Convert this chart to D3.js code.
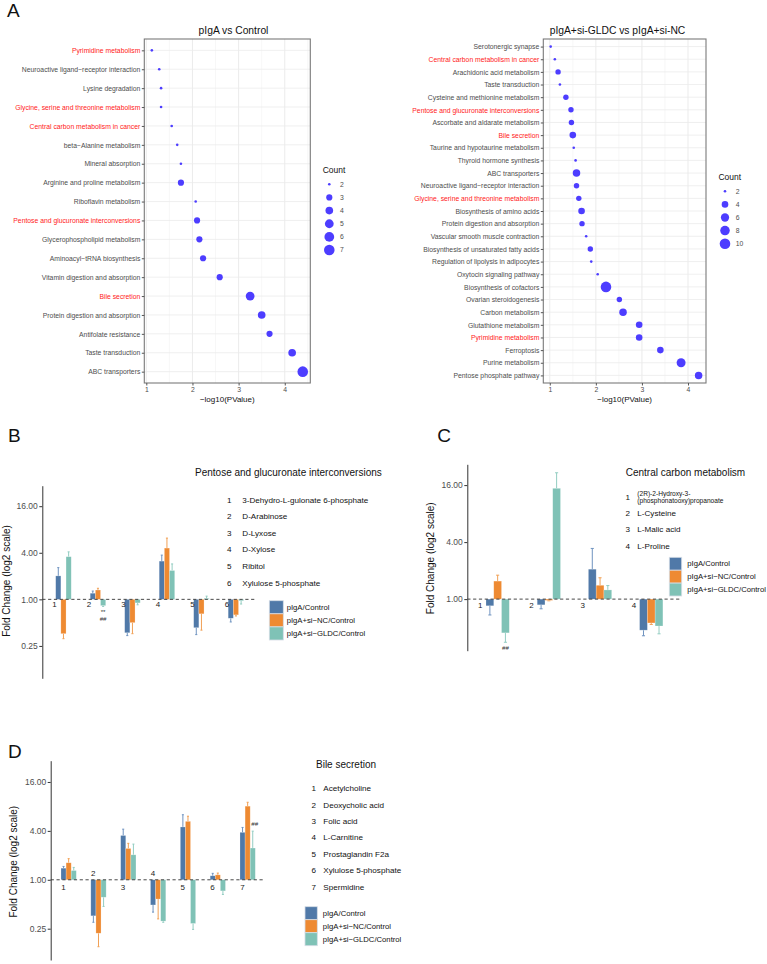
<!DOCTYPE html>
<html><head><meta charset="utf-8">
<script src="https://cdn.jsdelivr.net/npm/d3@7"></script>
<style>
body{margin:0;background:#fff}
svg{display:block}
text{font-family:"Liberation Sans",Arial,Helvetica,sans-serif}
</style>
</head><body>
<svg id="fig" width="767" height="964"></svg>
<script>
// ---------------- DATA ----------------
// Panel A (left): pIgA vs Control
const leftTerms = ["Pyrimidine metabolism","Neuroactive ligand\u2212receptor interaction","Lysine degradation","Glycine, serine and threonine metabolism","Central carbon metabolism in cancer","beta\u2212Alanine metabolism","Mineral absorption","Arginine and proline metabolism","Riboflavin metabolism","Pentose and glucuronate interconversions","Glycerophospholipid metabolism","Aminoacyl\u2212tRNA biosynthesis","Vitamin digestion and absorption","Bile secretion","Protein digestion and absorption","Antifolate resistance","Taste transduction","ABC transporters"];
const leftLogP = [1.12,1.28,1.32,1.32,1.55,1.67,1.75,1.75,2.07,2.10,2.15,2.23,2.59,3.25,3.50,3.67,4.16,4.39];
const leftCount = [2,2,2,2,2,2,2,3,2,3,3,3,3,5,4,3,4,7];
const leftCountBreaks = [2,3,4,5,6,7];

// Panel A (right): pIgA+si-GLDC vs pIgA+si-NC
const rightTerms = ["Serotonergic synapse","Central carbon metabolism in cancer","Arachidonic acid metabolism","Taste transduction","Cysteine and methionine metabolism","Pentose and glucuronate interconversions","Ascorbate and aldarate metabolism","Bile secretion","Taurine and hypotaurine metabolism","Thyroid hormone synthesis","ABC transporters","Neuroactive ligand\u2212receptor interaction","Glycine, serine and threonine metabolism","Biosynthesis of amino acids","Protein digestion and absorption","Vascular smooth muscle contraction","Biosynthesis of unsaturated fatty acids","Regulation of lipolysis in adipocytes","Oxytocin signaling pathway","Biosynthesis of cofactors","Ovarian steroidogenesis","Carbon metabolism","Glutathione metabolism","Pyrimidine metabolism","Ferroptosis","Purine metabolism","Pentose phosphate pathway"];
const rightLogP = [1.02,1.11,1.18,1.22,1.35,1.46,1.47,1.50,1.52,1.56,1.58,1.58,1.63,1.69,1.70,1.79,1.88,1.90,2.04,2.22,2.51,2.59,2.94,2.94,3.40,3.85,4.23];
const rightCount = [2,2,3,2,3,3,3,4,2,2,5,3,3,4,3,2,3,2,2,10,3,5,4,4,4,7,5];
const rightCountBreaks = [2,4,6,8,10];

const highlightedTerms = ["Pyrimidine metabolism","Glycine, serine and threonine metabolism","Central carbon metabolism in cancer","Pentose and glucuronate interconversions","Bile secretion"];
const pValueTicks = [1,2,3,4];

// Bar panels
const seriesNames = ["pIgA/Control","pIgA+si\u2212NC/Control","pIgA+si\u2212GLDC/Control"];
const foldTicks = [0.25,1,4,16];

// Panel B: Pentose and glucuronate interconversions
const pentoseIds = ["1","2","3","4","5","6"];
const pentoseNames = ["3-Dehydro-L-gulonate 6-phosphate","D-Arabinose","D-Lyxose","D-Xylose","Ribitol","Xylulose 5-phosphate"];
const pentoseCtrl = [2.01,1.20,0.37,3.12,0.43,0.57];
const pentoseCtrlErr = [2.57,1.28,0.34,3.73,0.35,0.51];
const pentoseNC = [0.36,1.32,0.50,4.60,0.65,0.63];
const pentoseNCErr = [0.31,1.39,0.36,6.19,0.40,0.61];
const pentoseGLDC = [3.56,0.83,0.90,2.36,1.03,0.96];
const pentoseGLDCErr = [4.11,0.81,0.85,2.87,1.10,0.87];
const pentoseSig = ["","**\n##","","","",""];

// Panel C: Central carbon metabolism
const centralIds = ["1","2","3","4"];
const centralNames = ["(2R)-2-Hydroxy-3-\n(phosphonatooxy)propanoate","L-Cysteine","L-Malic acid","L-Proline"];
const centralCtrl = [0.85,0.87,2.07,0.47];
const centralCtrlErr = [0.68,0.79,3.43,0.41];
const centralNC = [1.55,0.97,1.40,0.56];
const centralNCErr = [1.79,0.96,1.68,0.54];
const centralGLDC = [0.44,14.8,1.25,0.52];
const centralGLDCErr = [0.35,21.6,1.39,0.43];
const centralSig = ["##","","",""];

// Panel D: Bile secretion
const bileIds = ["1","2","3","4","5","6","7"];
const bileNames = ["Acetylcholine","Deoxycholic acid","Folic acid","L-Carnitine","Prostaglandin F2a","Xylulose 5-phosphate","Spermidine"];
const bileCtrl = [1.39,0.36,3.51,0.49,4.47,1.12,3.84];
const bileCtrlErr = [1.46,0.30,4.20,0.40,6.32,1.20,4.41];
const bileNC = [1.62,0.22,2.43,0.58,5.24,1.15,8.06];
const bileNCErr = [1.82,0.15,2.81,0.33,6.06,1.21,9.00];
const bileGLDC = [1.30,0.61,2.03,0.31,0.29,0.73,2.46];
const bileGLDCErr = [1.42,0.47,2.75,0.30,0.245,0.66,3.97];
const bileSig = ["","","","","","","##"];

// ---------------- DRAWING ----------------
const svg = d3.select("#fig");
const DOT = "#4d3dff", GREY = "#4d4d4d";
const COLORS = ["#5079a8","#ee8a32","#7fc2b6"];
const ERRCOL = ["#6f93c0","#f1a055","#93cdc2"];

function letter(x, y, t){
  svg.append("text").attr("x",x).attr("y",y).attr("font-size",19).attr("fill","#111").text(t);
}

function dotPanel(o){
  const g = svg.append("g");
  const [lo, hi] = d3.extent(o.values);
  const pad = (hi - lo) * 0.05;
  const x = d3.scaleLinear().domain([lo - pad, hi + pad]).range([o.x0, o.x1]);
  const y = d3.scalePoint().domain(o.terms).range([o.y0, o.y1]).padding(0.6);
  const t = d3.scaleLinear().domain(d3.extent(o.counts)).range([0,1]);
  const r = c => o.rMin + (o.rMax - o.rMin) * Math.sqrt(t(c));

  const minor = d3.range(Math.ceil((lo-pad)*2)/2, hi+pad, 0.5).filter(v => Math.abs(v - Math.round(v)) > 0.01);
  g.selectAll(".mn").data(minor).join("line")
    .attr("x1",d=>x(d)).attr("x2",d=>x(d)).attr("y1",o.y0).attr("y2",o.y1)
    .attr("stroke","#f2f2f2").attr("stroke-width",0.6);
  g.selectAll(".mj").data(o.xticks).join("line")
    .attr("x1",d=>x(d)).attr("x2",d=>x(d)).attr("y1",o.y0).attr("y2",o.y1)
    .attr("stroke","#e6e6e6").attr("stroke-width",0.8);
  g.selectAll(".hg").data(o.terms).join("line")
    .attr("x1",o.x0).attr("x2",o.x1).attr("y1",d=>y(d)).attr("y2",d=>y(d))
    .attr("stroke","#ebebeb").attr("stroke-width",0.8);

  g.selectAll("circle.pt").data(o.terms.map((d,i)=>({term:d, v:o.values[i], c:o.counts[i]})))
    .join("circle").attr("cx",d=>x(d.v)).attr("cy",d=>y(d.term)).attr("r",d=>r(d.c))
    .attr("fill",DOT);

  g.append("rect").attr("x",o.x0).attr("y",o.y0).attr("width",o.x1-o.x0).attr("height",o.y1-o.y0)
    .attr("fill","none").attr("stroke","#7a7a7a").attr("stroke-width",1.1);

  const xa = g.append("g").attr("transform",`translate(0,${o.y1})`)
    .call(d3.axisBottom(x).tickValues(o.xticks).tickSize(2.5).tickPadding(2).tickFormat(d3.format("d")));
  xa.select(".domain").remove();
  xa.selectAll("line").attr("stroke","#555");
  xa.selectAll("text").attr("font-size",6.8).attr("fill",GREY).attr("font-family",null);

  const ya = g.append("g").attr("transform",`translate(${o.x0},0)`)
    .call(d3.axisLeft(y).tickSize(2.5).tickPadding(1.5));
  ya.select(".domain").remove();
  ya.selectAll("line").attr("stroke","#555");
  ya.selectAll("text").attr("font-size",6.8).attr("font-family",null)
    .attr("fill",d => highlightedTerms.includes(d) ? "#ff1a1a" : GREY);

  g.append("text").attr("x",o.titleX).attr("y",34).attr("text-anchor","middle")
    .attr("font-size",10.3).attr("fill","#111").text(o.title);
  g.append("text").attr("x",(o.x0+o.x1)/2).attr("y",402).attr("text-anchor","middle")
    .attr("font-size",8).attr("fill","#111").text("\u2212log10(PValue)");

  g.append("text").attr("x",o.legX-6.6).attr("y",o.legY-14).attr("dy","0.35em")
    .attr("font-size",8.5).attr("fill","#111").text("Count");
  const li = g.selectAll(".lg").data(o.breaks).join("g")
    .attr("transform",(d,i)=>`translate(${o.legX},${o.legY + i*o.legDy})`);
  li.append("circle").attr("r",d=>r(d)).attr("fill",DOT);
  li.append("text").attr("x",10.7).attr("dy","0.35em").attr("font-size",6.8).attr("fill",GREY).text(d=>d);
}

letter(7, 16.7, "A");
dotPanel({terms:leftTerms, values:leftLogP, counts:leftCount, breaks:leftCountBreaks,
  x0:144.3, x1:310.3, y0:39, y1:383, rMin:1.3, rMax:5.3, xticks:pValueTicks,
  title:"pIgA vs Control", titleX:233.5, legX:329.3, legY:184.3, legDy:13.15});
dotPanel({terms:rightTerms, values:rightLogP, counts:rightCount, breaks:rightCountBreaks,
  x0:543.3, x1:706, y0:39, y1:383, rMin:1.3, rMax:5.3, xticks:pValueTicks,
  title:"pIgA+si-GLDC vs pIgA+si-NC", titleX:617.5, legX:725, legY:191.3, legDy:13.1});

function barPanel(o){
  const g = svg.append("g");
  const y = d3.scaleLog().base(2).domain(o.yDomain).range(o.yRange);
  const xg = d3.scaleBand().domain(o.ids).range(o.xRange).paddingInner(o.padInner).paddingOuter(0);
  const xs = d3.scaleBand().domain(seriesNames).range([0, xg.bandwidth()]);
  const y1 = y(1);

  const rows = [];
  o.ids.forEach((id,i)=>{
    o.series.forEach((s,k)=>{
      rows.push({id, k, v:s[i], e:o.errs[k][i], sig: k===2 ? o.sig[i] : ""});
    });
  });
  const cxOf = d => xg(d.id)+xs(seriesNames[d.k])+xs.bandwidth()/2;
  const eb = g.selectAll(".eb").data(rows).join("g");
  eb.append("line")
    .attr("x1",cxOf).attr("x2",cxOf)
    .attr("y1",d=>y(d.v)).attr("y2",d=>y(d.e))
    .attr("stroke",d=>ERRCOL[d.k]).attr("stroke-width",1);
  eb.append("line")
    .attr("x1",d=>xg(d.id)+xs(seriesNames[d.k])+xs.bandwidth()*0.3)
    .attr("x2",d=>xg(d.id)+xs(seriesNames[d.k])+xs.bandwidth()*0.7)
    .attr("y1",d=>y(d.e)).attr("y2",d=>y(d.e))
    .attr("stroke",d=>ERRCOL[d.k]).attr("stroke-width",1);
  g.selectAll(".bar").data(rows).join("rect")
    .attr("x",d=>xg(d.id)+xs(seriesNames[d.k]))
    .attr("width",xs.bandwidth())
    .attr("y",d=>Math.min(y(d.v),y1))
    .attr("height",d=>Math.abs(y(d.v)-y1))
    .attr("fill",d=>COLORS[d.k])
    .attr("stroke","rgba(255,255,255,0.35)").attr("stroke-width",0.6);

  // significance marks
  rows.filter(d=>d.sig).forEach(d=>{
    const cx = cxOf(d) + (d.v < 1 ? 0 : 2);
    const lines = d.sig.split("\n");
    lines.forEach((ln,j)=>{
      const yy = d.v < 1 ? y(d.e) + 7.6 + j*6.8 : y(d.e) - 5 - (lines.length-1-j)*6.8;
      g.append("text").attr("x",cx).attr("y",yy).attr("text-anchor","middle")
        .attr("font-size",6.2).attr("fill","#333").text(ln);
    });
  });

  g.append("line").attr("x1",o.xAxis).attr("x2",o.lineEnd).attr("y1",y1).attr("y2",y1)
    .attr("stroke","#333").attr("stroke-width",0.9).attr("stroke-dasharray","3.2,2.6");

  g.selectAll(".gl").data(o.ids).join("text")
    .attr("x",d=>xg(d)+o.labelOffset)
    .attr("y",d=> o.labelAbove.includes(d) ? y1-7 : y1+o.labelBelow)
    .attr("dy","0.35em").attr("text-anchor","middle").attr("font-size",8).attr("fill","#222").text(d=>d);

  const ya = g.append("g").attr("transform",`translate(${o.xAxis},0)`)
    .call(d3.axisLeft(y).tickValues(foldTicks.filter(v=>v>=o.yDomain[0]&&v<=o.yDomain[1]))
      .tickFormat(d3.format(".2f")).tickSize(3).tickSizeOuter(0).tickPadding(1.5));
  ya.select(".domain").attr("stroke","#333").attr("stroke-width",1);
  ya.selectAll(".tick line").attr("stroke","#333");
  ya.selectAll("text").attr("font-size",8.5).attr("fill",GREY).attr("font-family",null);
  g.append("text").attr("transform",`translate(${o.yTitle[0]},${o.yTitle[1]}) rotate(-90)`)
    .attr("text-anchor","middle").attr("dy","0.35em").attr("font-size",10).attr("fill","#111")
    .text("Fold Change (log2 scale)");

  g.append("text").attr("x",o.title[0]).attr("y",o.title[1]).attr("dy","0.35em")
    .attr("font-size",10).attr("fill","#111").text(o.titleText);
  o.names.forEach((nm,i)=>{
    const yy = o.list.y0 + i*o.list.dy;
    g.append("text").attr("x",o.list.numX).attr("y",yy).attr("dy","0.35em").attr("text-anchor","middle")
      .attr("font-size",8.1).attr("fill","#111").text(o.ids[i]);
    const parts = nm.split("\n");
    if(parts.length === 1){
      g.append("text").attr("x",o.list.nameX).attr("y",yy).attr("dy","0.35em")
        .attr("font-size",8.1).attr("fill","#111").text(nm);
    } else {
      parts.forEach((p,j)=>{
        g.append("text").attr("x",o.list.nameX).attr("y",yy + (j - (parts.length-1)/2)*7.4).attr("dy","0.35em")
          .attr("font-size",6.6).attr("fill","#111").text(p);
      });
    }
  });

  seriesNames.forEach((s,k)=>{
    g.append("rect").attr("x",o.box.x).attr("y",o.box.y0 + k*o.box.h)
      .attr("width",o.box.w).attr("height",o.box.h)
      .attr("fill",COLORS[k]).attr("stroke","#d6dde6").attr("stroke-width",0.8);
    g.append("text").attr("x",o.box.labelX).attr("y",o.box.y0 + k*o.box.h + o.box.h/2)
      .attr("dy","0.35em").attr("font-size",7.7).attr("fill","#111").text(s);
  });
}

letter(8, 441.7, "B");
barPanel({ids:pentoseIds, names:pentoseNames,
  series:[pentoseCtrl,pentoseNC,pentoseGLDC], errs:[pentoseCtrlErr,pentoseNCErr,pentoseGLDCErr], sig:pentoseSig,
  yDomain:[Math.pow(2,-3.39), Math.pow(2,4.88)], yRange:[678.3,485.7],
  xRange:[55.7,243.7], padInner:0.55, xAxis:42.3, lineEnd:256.7,
  labelOffset:-1.2, labelBelow:4.8, labelAbove:[],
  yTitle:[6.5,581], title:[195,472], titleText:"Pentose and glucuronate interconversions",
  list:{numX:229.3, nameX:242.3, y0:500, dy:16.55},
  box:{x:269.3, y0:600.7, w:14, h:13.1, labelX:286.7}});

letter(437.3, 441.7, "C");
barPanel({ids:centralIds, names:centralNames,
  series:[centralCtrl,centralNC,centralGLDC], errs:[centralCtrlErr,centralNCErr,centralGLDCErr], sig:centralSig,
  yDomain:[Math.pow(2,-1.81), Math.pow(2,4.73)], yRange:[650.7,464.3],
  xRange:[486,662.9], padInner:0.545, xAxis:467.3, lineEnd:681.7,
  labelOffset:-5.7, labelBelow:6, labelAbove:[],
  yTitle:[430,558.3], title:[625.7,472.3], titleText:"Central carbon metabolism",
  list:{numX:627.7, nameX:637.3, y0:497, dy:16.3},
  box:{x:669.3, y0:557.3, w:12.4, h:12.9, labelX:687.3}});

letter(8, 758.3, "D");
barPanel({ids:bileIds, names:bileNames,
  series:[bileCtrl,bileNC,bileGLDC], errs:[bileCtrlErr,bileNCErr,bileGLDCErr], sig:bileSig,
  yDomain:[Math.pow(2,-3.28), Math.pow(2,4.87)], yRange:[960,760.7],
  xRange:[61,255.3], padInner:0.487, xAxis:50.7, lineEnd:265,
  labelOffset:2.4, labelBelow:7.6, labelAbove:["2","4"],
  yTitle:[13.8,861.7], title:[316,764.3], titleText:"Bile secretion",
  list:{numX:313.7, nameX:323.3, y0:788.3, dy:16.45},
  box:{x:305, y0:906.7, w:12.3, h:13, labelX:322.7}});
</script>
</body></html>
